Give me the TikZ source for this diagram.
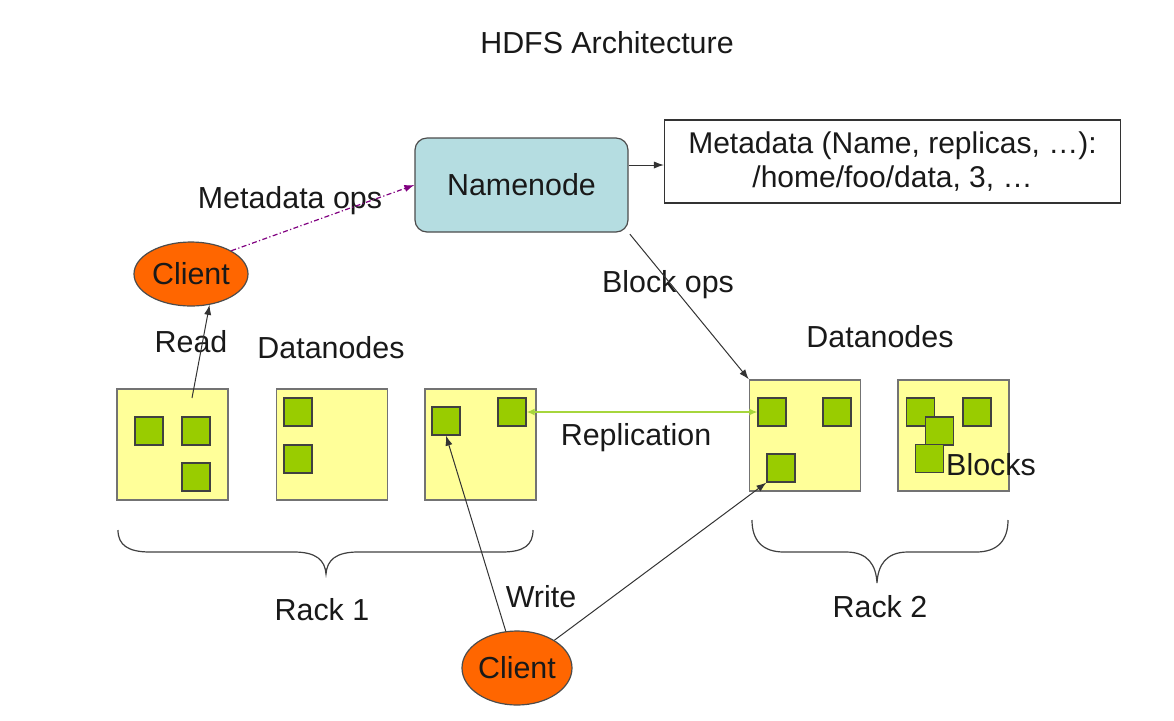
\documentclass[tikz,border=0pt]{standalone}
\usepackage{fontspec}
\setmainfont{Liberation Sans}
\usetikzlibrary{arrows.meta, positioning, shapes.geometric}

\definecolor{nodeblue}{HTML}{B5DDE1}
\definecolor{dnyellow}{HTML}{FFFF99}
\definecolor{blockgreen}{HTML}{99CC00}
\definecolor{clientorange}{HTML}{FF6600}
\definecolor{opspurple}{HTML}{800080}
\definecolor{replgreen}{HTML}{A6D63C}
\definecolor{linegray}{HTML}{333333}

\begin{document}
\begin{tikzpicture}[x=0.5pt, y=-0.5pt, every node/.style={font=\fontsize{15.2pt}{18pt}\selectfont, text=black!90},
    datanode/.style={draw=black!55, line width=0.7pt, fill=dnyellow, minimum width=55.5pt, minimum height=55.5pt, inner sep=0pt},
    block/.style={draw=black!75, line width=0.6pt, fill=blockgreen, minimum width=14pt, minimum height=14pt, inner sep=0pt},
    client/.style={ellipse, draw=black!70, line width=0.6pt, fill=clientorange, inner sep=0pt},
    arr/.style={draw=linegray, line width=0.5pt, -{Latex[length=5pt, width=3.6pt]}},
    brace/.style={draw=black!75, line width=0.6pt}]
    \useasboundingbox (0,0) rectangle (1174,720);

    \node[anchor=base] (title) at (607,53) {HDFS Architecture};
    \node[draw=black!70, line width=0.6pt, fill=nodeblue, rounded corners=6pt, minimum width=106.5pt, minimum height=47pt] (namenode) at (521.5,185) {Namenode};
    \node[draw=black!80, line width=0.6pt, minimum width=228pt, minimum height=41.5pt, inner sep=0pt, align=center, font=\fontsize{15pt}{17pt}\selectfont] (meta) at (892.5,161.5) {Metadata (Name, replicas, …):\\/home/foo/data, 3, …};

    \node[client, minimum width=57pt, minimum height=32pt] (client1) at (191,274) {Client};
    \node[client, minimum width=55pt, minimum height=37pt] (client2) at (517,668) {Client};

    % datanodes, rack 1 and rack 2
    \node[datanode] (dn1) at (172.5,444.5) {};
    \node[datanode, right=23.5pt of dn1] (dn2) {};
    \node[datanode, right=18pt of dn2] (dn3) {};
    \node[datanode] (dn4) at (805,435.5) {};
    \node[datanode, right=18pt of dn4] (dn5) {};

    % blocks
    \node[block] (b1) at (149,431) {};
    \node[block] (b2) at (196,431) {};
    \node[block] (b3) at (196,477) {};
    \node[block] (b4) at (298,412) {};
    \node[block] (b5) at (298,459) {};
    \node[block] (b6) at (446,421) {};
    \node[block] (b7) at (512,412) {};
    \node[block] (b8) at (772,412) {};
    \node[block] (b9) at (837,412) {};
    \node[block] (b10) at (781,468) {};
    \node[block] (b11) at (920.5,412) {};
    \node[block] (b12) at (977,412) {};
    \node[block] (b13) at (939.5,431) {};
    \node[block] (b14) at (929.5,458.5) {};

    \node[anchor=base] (metaops) at (290,208) {Metadata ops};
    \node[anchor=base] (read) at (191,352) {Read};
    \node[anchor=base] (dnlabel1) at (331,358) {Datanodes};
    \node[anchor=base] (dnlabel2) at (880,347) {Datanodes};
    \node[anchor=base] (blockops) at (668,292) {Block ops};
    \node[anchor=base] (repl) at (636,445) {Replication};
    \node[anchor=base] (blocks) at (991,475) {Blocks};
    \node[anchor=base] (rack1) at (322,620) {Rack 1};
    \node[anchor=base] (rack2) at (880,617) {Rack 2};
    \node[anchor=base] (write) at (541,607) {Write};

    % braces under the racks
    \draw[brace] (118,530) .. controls (118,545) and (128,552) .. (150,552) -- (294,552)
      .. controls (316,552) and (325,560) .. (326,574) .. controls (327,560) and (336,552) .. (358,552)
      -- (502,552) .. controls (524,552) and (533,545) .. (533,530);
    \draw[brace] (752,520) .. controls (752,540) and (762,552) .. (784,552) -- (846,552)
      .. controls (868,552) and (876,565) .. (877,583) .. controls (878,565) and (886,552) .. (908,552)
      -- (976,552) .. controls (998,552) and (1008,540) .. (1008,520);

    \coordinate (readstart) at (192,398);
    \draw[arr] (readstart) -- (client1.-59);
    \draw[draw=opspurple, line width=0.6pt, dash pattern=on 2.5pt off 1.2pt on 0.6pt off 1.2pt, -{Latex[length=5pt, width=3.6pt]}] (client1.30) -- (namenode.west);
    \draw[arr] ([yshift=-1.75pt]meta.west -| namenode.east) -- ([yshift=-1.75pt]meta.west);
    \draw[arr, shorten <=1pt] (namenode.south east) -- (dn4.north west);
    \draw[draw=replgreen, line width=0.8pt, {Latex[length=4pt, width=3.5pt]}-{Latex[length=4pt, width=3.5pt]}] (b7.east) -- (b8.west);
    \draw[arr] (client2) -- (b6.south);
    \draw[arr] (client2) -- (b10.south west);
  \end{tikzpicture}
\end{document}
